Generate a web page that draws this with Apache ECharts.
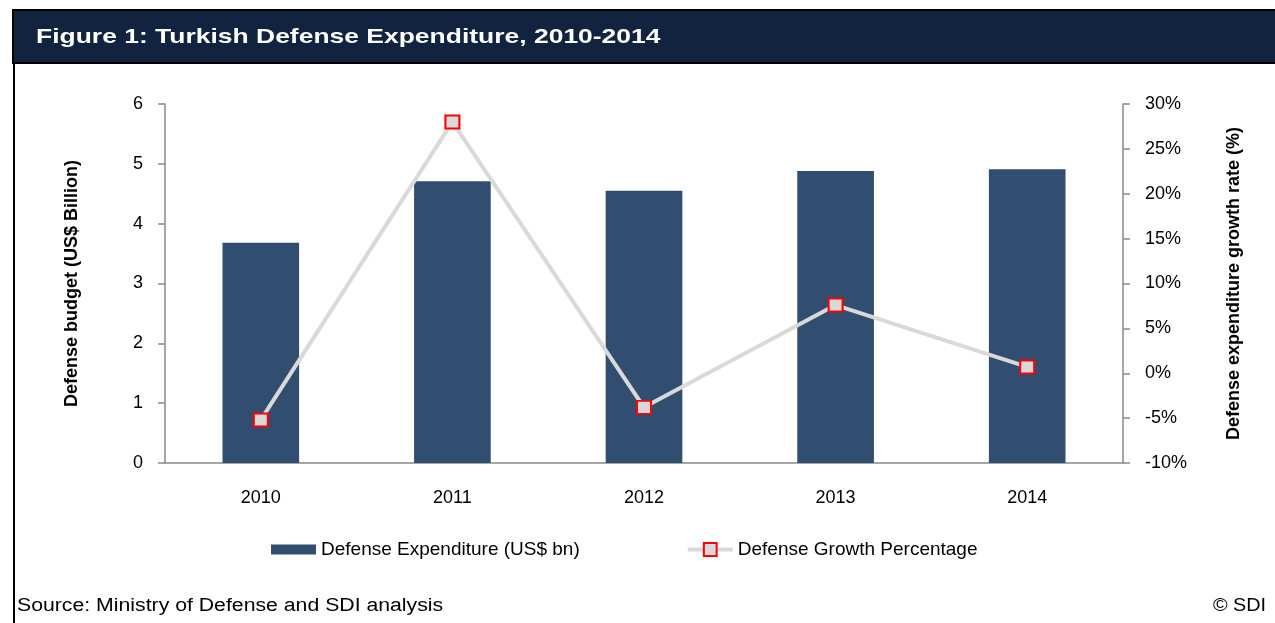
<!DOCTYPE html>
<html>
<head>
<meta charset="utf-8">
<title>Turkish Defense Expenditure, 2010-2014</title>
<script src="https://cdn.jsdelivr.net/npm/echarts@6/dist/echarts.min.js"></script>
<style>
  html, body { margin: 0; padding: 0; background: #fff; }
  #chart { width: 1275px; height: 623px; }
</style>
</head>
<body>
<div id="chart"></div>
<script>
// Turkish defense budget (US$ bn) and its year-on-year growth
const years = ['2010', '2011', '2012', '2013', '2014'];
const expenditure = [3.68, 4.71, 4.55, 4.88, 4.91];
const growthPct = [-5.2, 28.0, -3.8, 7.6, 0.7];

// Axis ranges
const budgetAxis = { min: 0, max: 6, interval: 1 };
const growthAxis = { min: -10, max: 30, interval: 5 };

const FONT = '"Liberation Sans", Arial, sans-serif';
const NAVY = '#12233F';
const BAR = '#314E70';
const AXIS_GREY = '#8A8A8A';
const LINE_GREY = '#D9D9D9';

const chart = echarts.init(document.getElementById('chart'), null, { renderer: 'canvas' });

chart.setOption({
  backgroundColor: '#ffffff',
  animation: false,
  textStyle: { fontFamily: FONT, color: '#000' },
  graphic: [
    // title band
    {
      type: 'rect', z: 0,
      shape: { x: 13, y: 10, width: 1275, height: 53 },
      style: { fill: NAVY, stroke: '#000', lineWidth: 2 }
    },
    {
      type: 'text', z: 1, x: 36, y: 37, scaleX: 1.26,
      style: { text: 'Figure 1: Turkish Defense Expenditure, 2010-2014', fill: '#fff',
               font: 'bold 21px ' + FONT, verticalAlign: 'middle' }
    },
    // left frame rule
    {
      type: 'line', z: 0,
      shape: { x1: 14, y1: 63, x2: 14, y2: 623 },
      style: { stroke: '#000', lineWidth: 2 }
    },
    {
      type: 'text', x: 17, y: 606, scaleX: 1.18,
      style: { text: 'Source: Ministry of Defense and SDI analysis', fill: '#000',
               font: '18px ' + FONT, verticalAlign: 'middle' }
    },
    {
      type: 'text', x: 1266, y: 606, scaleX: 1.1,
      style: { text: '\u00A9 SDI', fill: '#000', font: '18px ' + FONT,
               align: 'right', verticalAlign: 'middle' }
    }
  ],
  grid: { left: 165, right: 152, top: 104, bottom: 160, containLabel: false },
  legend: {
    left: 266,
    top: 535,
    itemGap: 106,
    itemWidth: 45,
    itemHeight: 16,
    textStyle: { fontFamily: FONT, fontSize: 19, color: '#000' },
    lineStyle: { width: 4 },
    data: [
      { name: 'Defense Expenditure (US$ bn)', icon: 'path://M0,0M0,3L45,3L45,13L0,13ZM45,16' },
      { name: 'Defense Growth Percentage' }
    ]
  },
  xAxis: {
    type: 'category',
    data: years,
    boundaryGap: true,
    axisLine: { show: true, lineStyle: { color: AXIS_GREY, width: 1.5 } },
    axisTick: { show: false },
    axisLabel: { margin: 26, fontSize: 18, color: '#000', fontFamily: FONT },
    splitLine: { show: false }
  },
  yAxis: [
    {
      type: 'value',
      min: budgetAxis.min, max: budgetAxis.max, interval: budgetAxis.interval,
      position: 'left',
      name: 'Defense budget (US$ Billion)',
      nameLocation: 'middle',
      nameRotate: 90,
      nameGap: 84,
      nameTextStyle: { fontFamily: FONT, fontSize: 18, fontWeight: 'bold', color: '#000' },
      axisLine: { show: true, lineStyle: { color: AXIS_GREY, width: 1.5 } },
      axisTick: { show: true, inside: false, length: 7, lineStyle: { color: AXIS_GREY, width: 1.5 } },
      axisLabel: { margin: 22, fontSize: 18, color: '#000', fontFamily: FONT },
      splitLine: { show: false }
    },
    {
      type: 'value',
      min: growthAxis.min, max: growthAxis.max, interval: growthAxis.interval,
      position: 'right',
      name: 'Defense expenditure growth rate (%)',
      nameLocation: 'middle',
      nameRotate: 90,
      nameGap: 102,
      nameTextStyle: { fontFamily: FONT, fontSize: 18, fontWeight: 'bold', color: '#000' },
      axisLine: { show: true, lineStyle: { color: AXIS_GREY, width: 1.5 } },
      axisTick: { show: true, inside: false, length: 7, lineStyle: { color: AXIS_GREY, width: 1.5 } },
      axisLabel: { margin: 22, fontSize: 18, color: '#000', fontFamily: FONT, formatter: '{value}%' },
      splitLine: { show: false }
    }
  ],
  series: [
    {
      name: 'Defense Expenditure (US$ bn)',
      type: 'bar',
      yAxisIndex: 0,
      data: expenditure,
      barWidth: '40%',
      itemStyle: { color: BAR },
      z: 2
    },
    {
      name: 'Defense Growth Percentage',
      type: 'line',
      yAxisIndex: 1,
      data: growthPct,
      symbol: 'rect',
      symbolSize: [14, 13],
      lineStyle: { color: LINE_GREY, width: 4 },
      itemStyle: { color: LINE_GREY, borderColor: '#FF0000', borderWidth: 2 },
      z: 3
    }
  ]
});
</script>
</body>
</html>
